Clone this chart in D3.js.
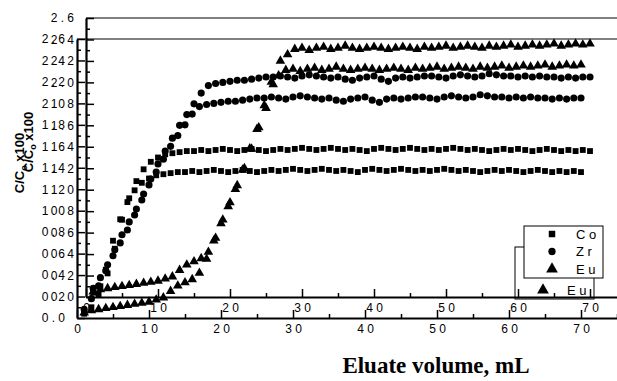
<!DOCTYPE html>
<html>
<head>
<meta charset="utf-8">
<script src="https://cdn.jsdelivr.net/npm/d3@7"></script>
<style>
  body { margin: 0; background: #fff; }
  svg { display: block; }
</style>
</head>
<body>
<svg id="chart" width="617" height="381"></svg>
<script>
// Eluate volume (mL) for every sample
const volume = [1,2,3,4,5,6,7,8,9,10,11,12,13,14,15,16,17,18,19,20,
  21,22,23,24,25,26,27,28,29,30,31,32,33,34,35,36,37,38,39,40,
  41,42,43,44,45,46,47,48,49,50,51,52,53,54,55,56,57,58,59,60,
  61,62,63,64,65,66,67,68,69,70];

// Breakthrough C/C0 (x100) per element
const co = [0.04,0.10,0.22,0.45,0.72,0.92,1.08,1.19,1.26,1.30,
  1.33,1.34,1.35,1.36,1.36,1.37,1.36,1.37,1.38,1.37,
  1.36,1.37,1.38,1.37,1.36,1.37,1.38,1.37,1.38,1.39,
  1.38,1.37,1.38,1.39,1.38,1.37,1.38,1.37,1.36,1.38,
  1.39,1.38,1.37,1.38,1.39,1.38,1.37,1.38,1.37,1.38,
  1.39,1.38,1.37,1.38,1.37,1.36,1.37,1.38,1.37,1.38,
  1.37,1.36,1.37,1.38,1.37,1.36,1.37,1.36,1.37,1.36];

const zr = [0.08,0.18,0.30,0.44,0.58,0.70,0.82,0.96,1.10,1.24,
  1.36,1.48,1.60,1.70,1.80,1.90,1.97,1.99,2.00,2.01,
  2.02,2.02,2.03,2.04,2.05,2.05,2.06,2.05,2.04,2.06,
  2.07,2.06,2.05,2.04,2.05,2.03,2.02,2.04,2.05,2.06,
  2.03,2.01,2.04,2.05,2.04,2.05,2.06,2.06,2.05,2.04,
  2.06,2.07,2.06,2.05,2.06,2.08,2.07,2.06,2.06,2.05,
  2.06,2.05,2.06,2.05,2.05,2.04,2.05,2.04,2.05,2.05];

const eu = [0.05,0.07,0.08,0.09,0.10,0.11,0.12,0.13,0.14,0.15,
  0.17,0.19,0.25,0.30,0.33,0.36,0.42,0.55,0.72,0.88,
  1.04,1.20,1.38,1.58,1.76,1.98,2.20,2.26,2.31,2.32,
  2.30,2.32,2.33,2.31,2.32,2.34,2.32,2.31,2.32,2.33,
  2.32,2.31,2.32,2.33,2.32,2.31,2.33,2.32,2.33,2.34,
  2.32,2.33,2.34,2.33,2.32,2.34,2.33,2.34,2.35,2.33,
  2.34,2.35,2.34,2.35,2.36,2.34,2.35,2.36,2.35,2.36];

const seriesNames = ["Co", "Zr", "Eu"];
const xTicks = [0, 10, 20, 30, 40, 50, 60, 70];
const xMinorTicks = [5, 15, 25, 35, 45, 55, 65, 75];
const yTicks = [0.0, 0.2, 0.4, 0.6, 0.8, 1.0, 1.2, 1.4, 1.6, 1.8, 2.0, 2.2, 2.4, 2.6];
const yMinorTicks = [0.1, 0.3, 0.5, 0.7, 0.9, 1.1, 1.3, 1.5, 1.7, 1.9, 2.1, 2.3, 2.5];

const svg = d3.select("#chart");
const symbolTypes = { Co: d3.symbolSquare, Zr: d3.symbolCircle, Eu: d3.symbolTriangle };
const symbolSizes = { Co: 34, Zr: 40, Eu: 40 };
const seriesValues = { Co: co, Zr: zr, Eu: eu };
const sans = "'Liberation Sans', Arial, sans-serif";
const serif = "'Liberation Serif', 'Times New Roman', serif";

function spaced(s) { return s.split("").join(" "); }

// One complete plot panel; two copies are layered, the second shifted up and right
function drawPanel(g, withTitle) {
  const x = d3.scaleLinear().domain([0, 80]).range([77, 77 + 576]);
  const y = d3.scaleLinear().domain([0, 2.6]).range([318, 39]);

  // grey frame line along the top of the plot area
  g.append("line")
    .attr("x1", x(0)).attr("x2", x(80))
    .attr("y1", y(2.6)).attr("y2", y(2.6))
    .attr("stroke", "#808080").attr("stroke-width", 2);

  // minor ticks
  g.append("g").attr("transform", `translate(${x(0)},0)`)
    .call(d3.axisLeft(y).tickValues(yMinorTicks).tickSize(-4).tickSizeOuter(0).tickFormat(""))
    .call(a => a.select(".domain").remove())
    .call(a => a.selectAll("line").attr("stroke", "#000").attr("stroke-width", 1.5));
  g.append("g").attr("transform", `translate(0,${y(0)})`)
    .call(d3.axisBottom(x).tickValues(xMinorTicks).tickSize(-4).tickSizeOuter(0).tickFormat(""))
    .call(a => a.select(".domain").remove())
    .call(a => a.selectAll("line").attr("stroke", "#000").attr("stroke-width", 1.5));

  // y axis
  const yAxis = g.append("g").attr("transform", `translate(${x(0)},0)`)
    .call(d3.axisLeft(y).tickValues(yTicks).tickSize(-8).tickSizeOuter(0)
      .tickPadding(12).tickFormat(d => spaced(d.toFixed(1))));
  yAxis.select(".domain").attr("stroke", "#000").attr("stroke-width", 2.2);
  yAxis.selectAll("line").attr("stroke", "#000").attr("stroke-width", 1.5);
  yAxis.selectAll("text").style("font-size", "12px").style("font-family", sans).attr("fill", "#000");

  // x axis
  const xAxis = g.append("g").attr("transform", `translate(0,${y(0)})`)
    .call(d3.axisBottom(x).tickValues(xTicks).tickSize(-8).tickSizeOuter(0)
      .tickPadding(6).tickFormat(d => spaced(String(d))));
  xAxis.select(".domain").attr("stroke", "#000").attr("stroke-width", 2.2);
  xAxis.selectAll("line").attr("stroke", "#000").attr("stroke-width", 1.5);
  xAxis.selectAll("text").style("font-size", "12px").style("font-family", sans).attr("fill", "#000");

  // data markers
  seriesNames.forEach(name => {
    const vals = seriesValues[name];
    g.append("g").selectAll("path")
      .data(volume.map((v, i) => [v, vals[i]]))
      .join("path")
      .attr("transform", d => `translate(${x(d[0])},${y(d[1])})`)
      .attr("d", d3.symbol(symbolTypes[name], symbolSizes[name]))
      .attr("fill", "#000");
  });

  // y axis title: C/C0 x100
  const yt = g.append("text")
    .attr("transform", "translate(24,163) rotate(-90)")
    .attr("text-anchor", "middle")
    .style("font-family", sans).style("font-size", "13px").style("font-weight", "bold")
    .attr("fill", "#000");
  yt.append("tspan").text("C/C");
  yt.append("tspan").style("font-size", "9px").attr("dy", 3).text("o");
  yt.append("tspan").attr("dy", -3).text(" x100");

  // legend
  const lg = g.append("g").attr("transform", "translate(515,247)");
  lg.append("rect").attr("width", 79).attr("height", 52)
    .attr("fill", "#fff").attr("stroke", "#000").attr("stroke-width", 1);
  seriesNames.forEach((name, i) => {
    const row = lg.append("g").attr("transform", `translate(0,${8 + i * 17.5})`);
    row.append("path").attr("transform", "translate(28,0)")
      .attr("d", d3.symbol(symbolTypes[name], name === "Eu" ? 60 : 42)).attr("fill", "#000");
    row.append("text").attr("x", 52).attr("dy", "0.35em")
      .style("font-family", sans).style("font-size", "13px").attr("fill", "#000")
      .text(spaced(name));
  });

  if (withTitle) {
    g.append("text").attr("x", 436).attr("y", 373).attr("text-anchor", "middle")
      .style("font-family", serif).style("font-weight", "bold").style("font-size", "23px")
      .attr("fill", "#000")
      .text("Eluate volume, mL");
  }
}

drawPanel(svg.append("g"), true);
drawPanel(svg.append("g").attr("transform", "translate(9,-21)"), false);
</script>
</body>
</html>
